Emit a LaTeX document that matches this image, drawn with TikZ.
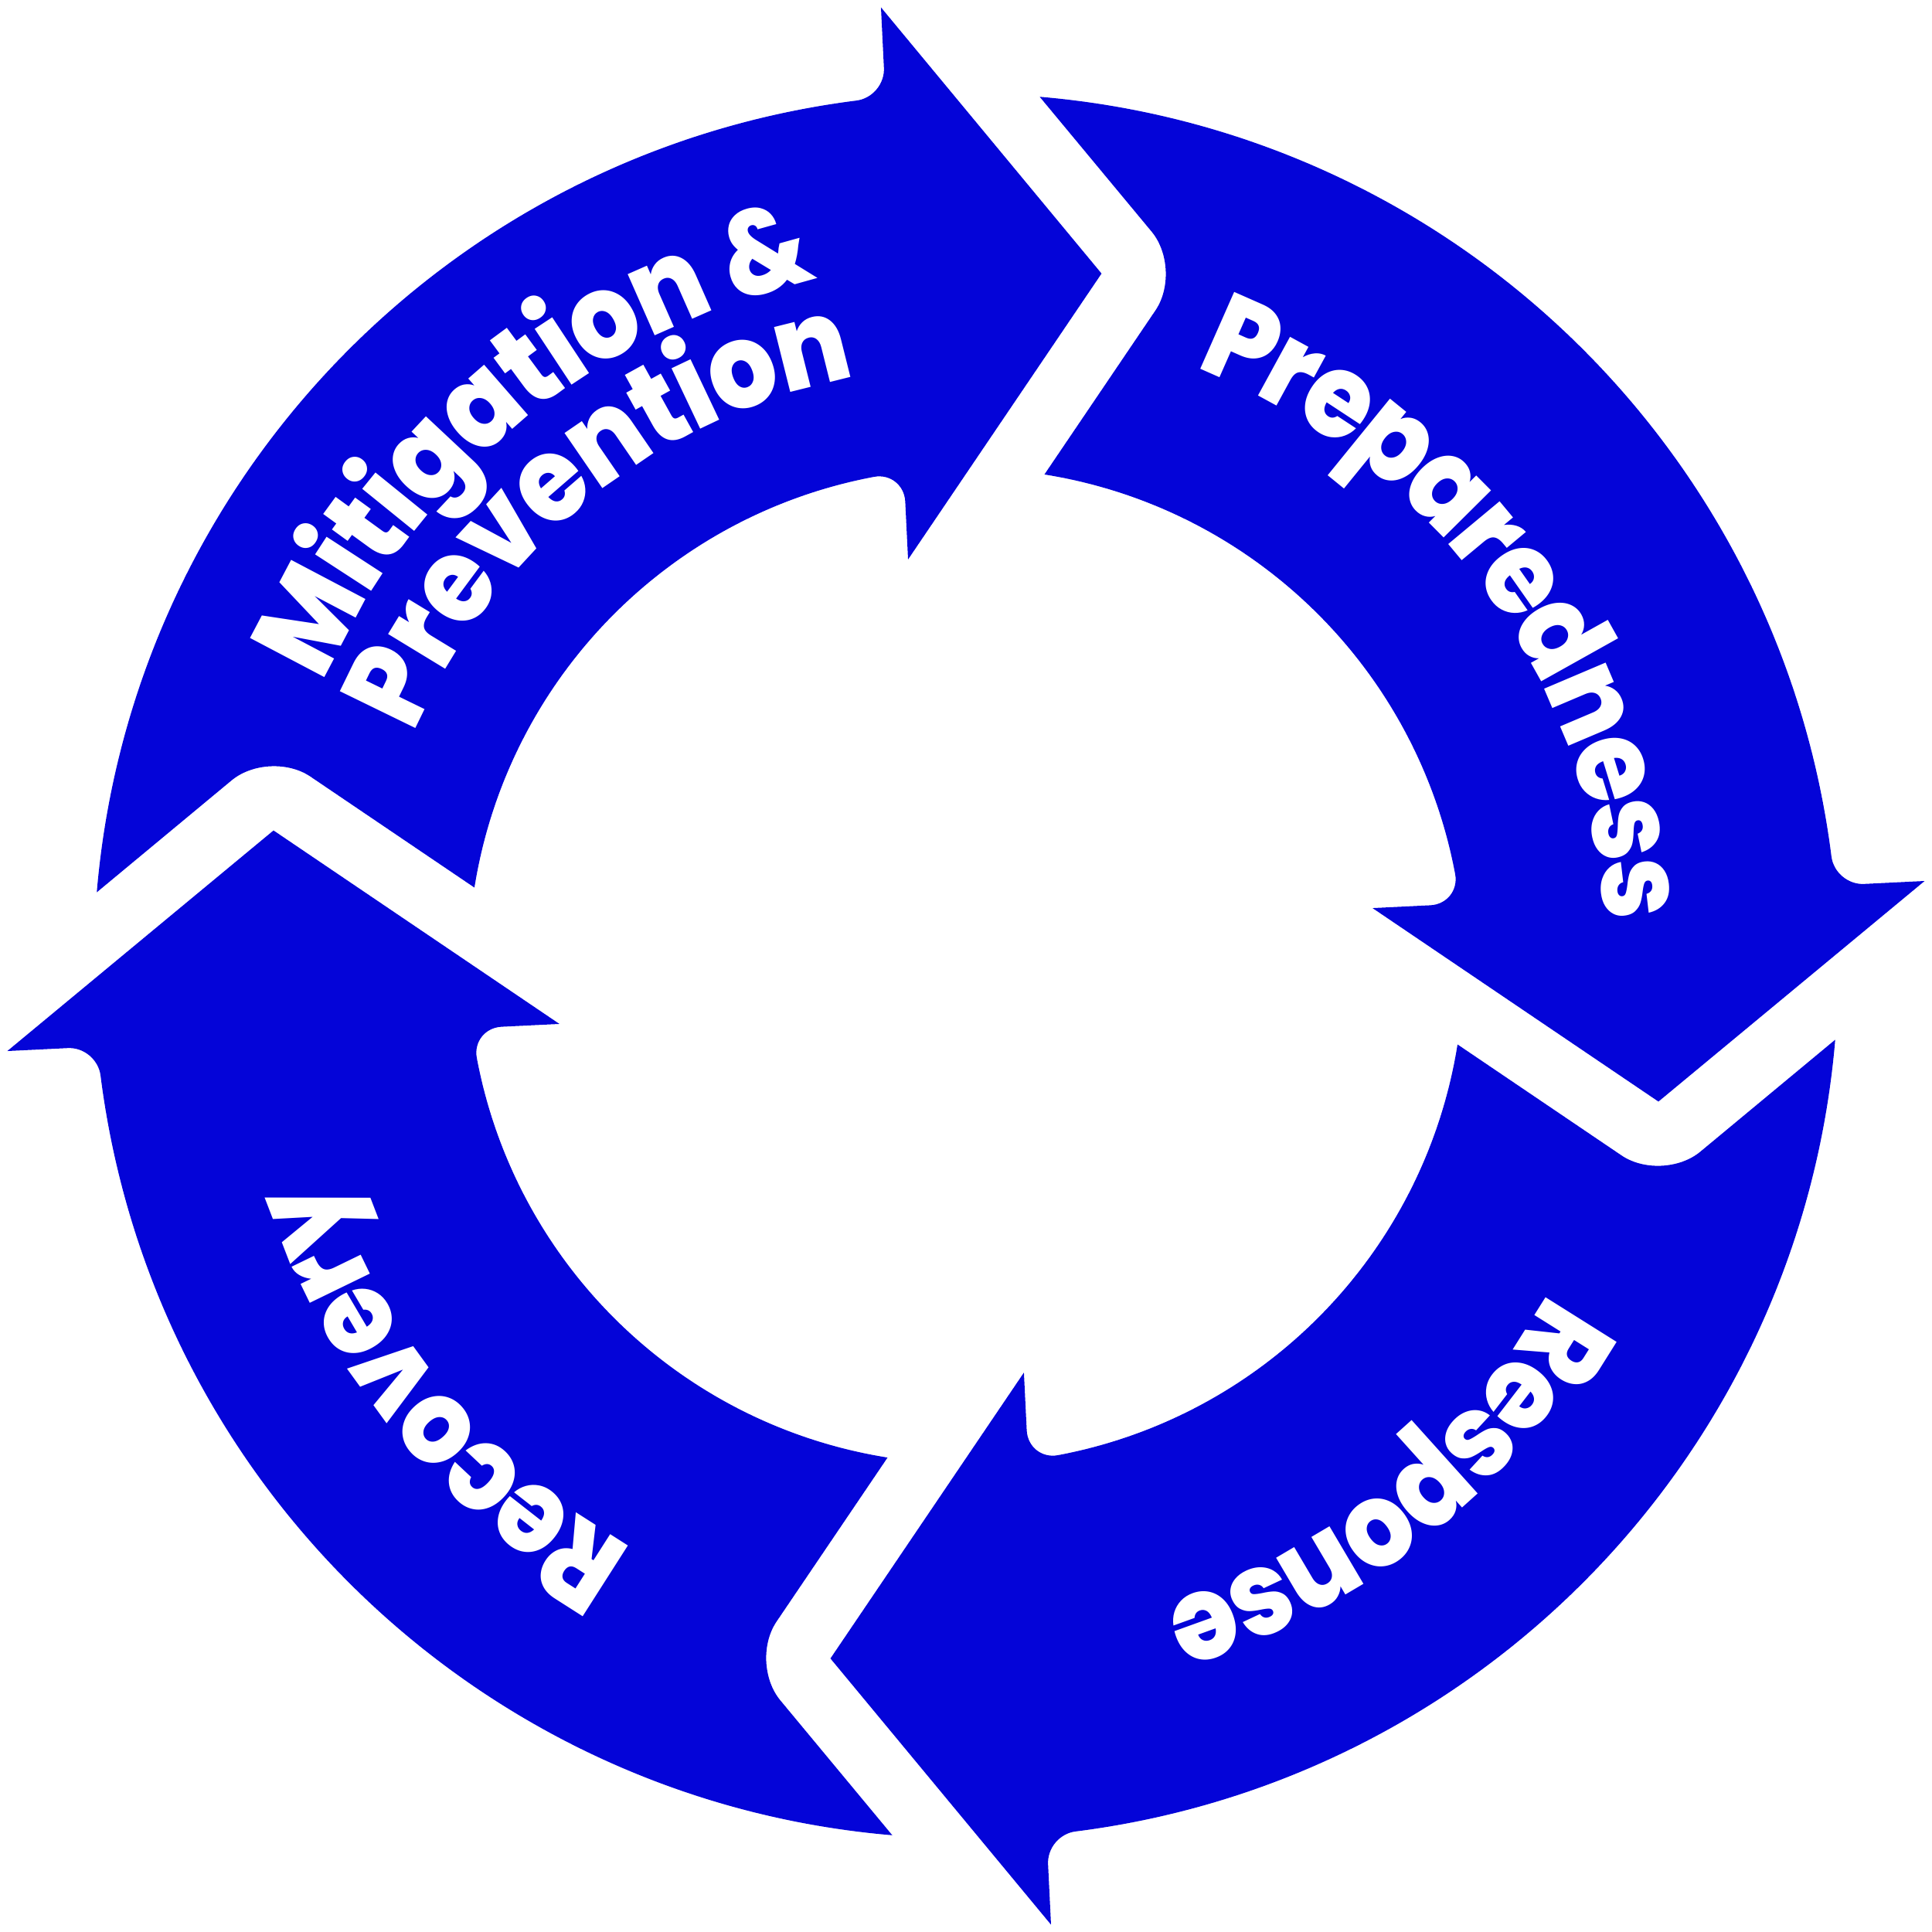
\documentclass[tikz,border=0pt]{standalone}
\usepackage{fontspec}
\IfFontExistsTF{Poppins ExtraBold}
  {\newfontfamily\lblfamily{Poppins ExtraBold}[FakeStretch=0.9]}
  {\newfontfamily\lblfamily{Poppins}[FakeStretch=0.9, UprightFont=* Bold]}
\usetikzlibrary{decorations.text}
\definecolor{arrowblue}{RGB}{4,4,216}
\newcommand\lblfont{\lblfamily\fontsize{27.5}{30}\selectfont\color{white}}
\newcommand\tk{\kern-1pt}
\newcommand\tl{\kern-0.5pt}
\tikzset{
  cyclearrow/.style={fill=arrowblue},
  lbl/.style={decorate, decoration={text along path, text align=center, text={|\lblfont|#1}}}
}
\begin{document}
\begin{tikzpicture}[x=0.01cm, y=0.01cm]
\useasboundingbox (-784,-784) rectangle (784,784);
\foreach \a in {0,-90,-180,-270}{
  \begin{scope}[rotate=\a]
    \fill[cyclearrow] (175.15:708) arc[start angle=175.15, end angle=97.24, radius=708]
      .. controls (-76.1,703.8) and (-65.9,715.8) .. (-66.6,729)
      -- (-69,778) -- (110,562) -- (-47,330) -- (-49.3,377)
      .. controls (-50.0,390.2) and (-61.2,399.3) .. (100.6:404)
      arc[start angle=100.6, end angle=170.93, radius=404]
      -- (-532.1,153.8) .. controls (-550.3,166.1) and (-579.1,164.7) .. (-596.0,150.7)
      -- cycle;
  \end{scope}
}
\path[lbl={{M\tl}{i\tl}{t\tl}{i\tl}{g\tl}{a\tl}{t\tl}{i\tl}{o\tl}{n\tl} {\&}}] (189.2:570) arc[start angle=189.2, end angle=69.2, radius=570];
\path[lbl={{P\tl}{r\tl}{e\tl}{v\tl}{e\tl}{n\tl}{t\tl}{i\tl}{o\tl}{n}}] (188.9:486) arc[start angle=188.9, end angle=68.9, radius=486];
\path[lbl={{P\tk}{r\tk}{e\tk}{p\tk}{a\tk}{r\tk}{e\tk}{d\tk}{n\tk}{e\tk}{s\tk}{s}}] (96.5:520) arc[start angle=96.5, end angle=-23.5, radius=520];
\path[lbl={{R\tk}{e\tk}{s\tk}{p\tk}{o\tk}{n\tk}{s\tk}{e}}] (8.9:542) arc[start angle=8.9, end angle=-111.1, radius=542];
\path[lbl={{R\tk}{e\tk}{c\tk}{o\tk}{v\tk}{e\tk}{r\tk}{y}}] (279.2:544) arc[start angle=279.2, end angle=159.2, radius=544];
\end{tikzpicture}
\end{document}
